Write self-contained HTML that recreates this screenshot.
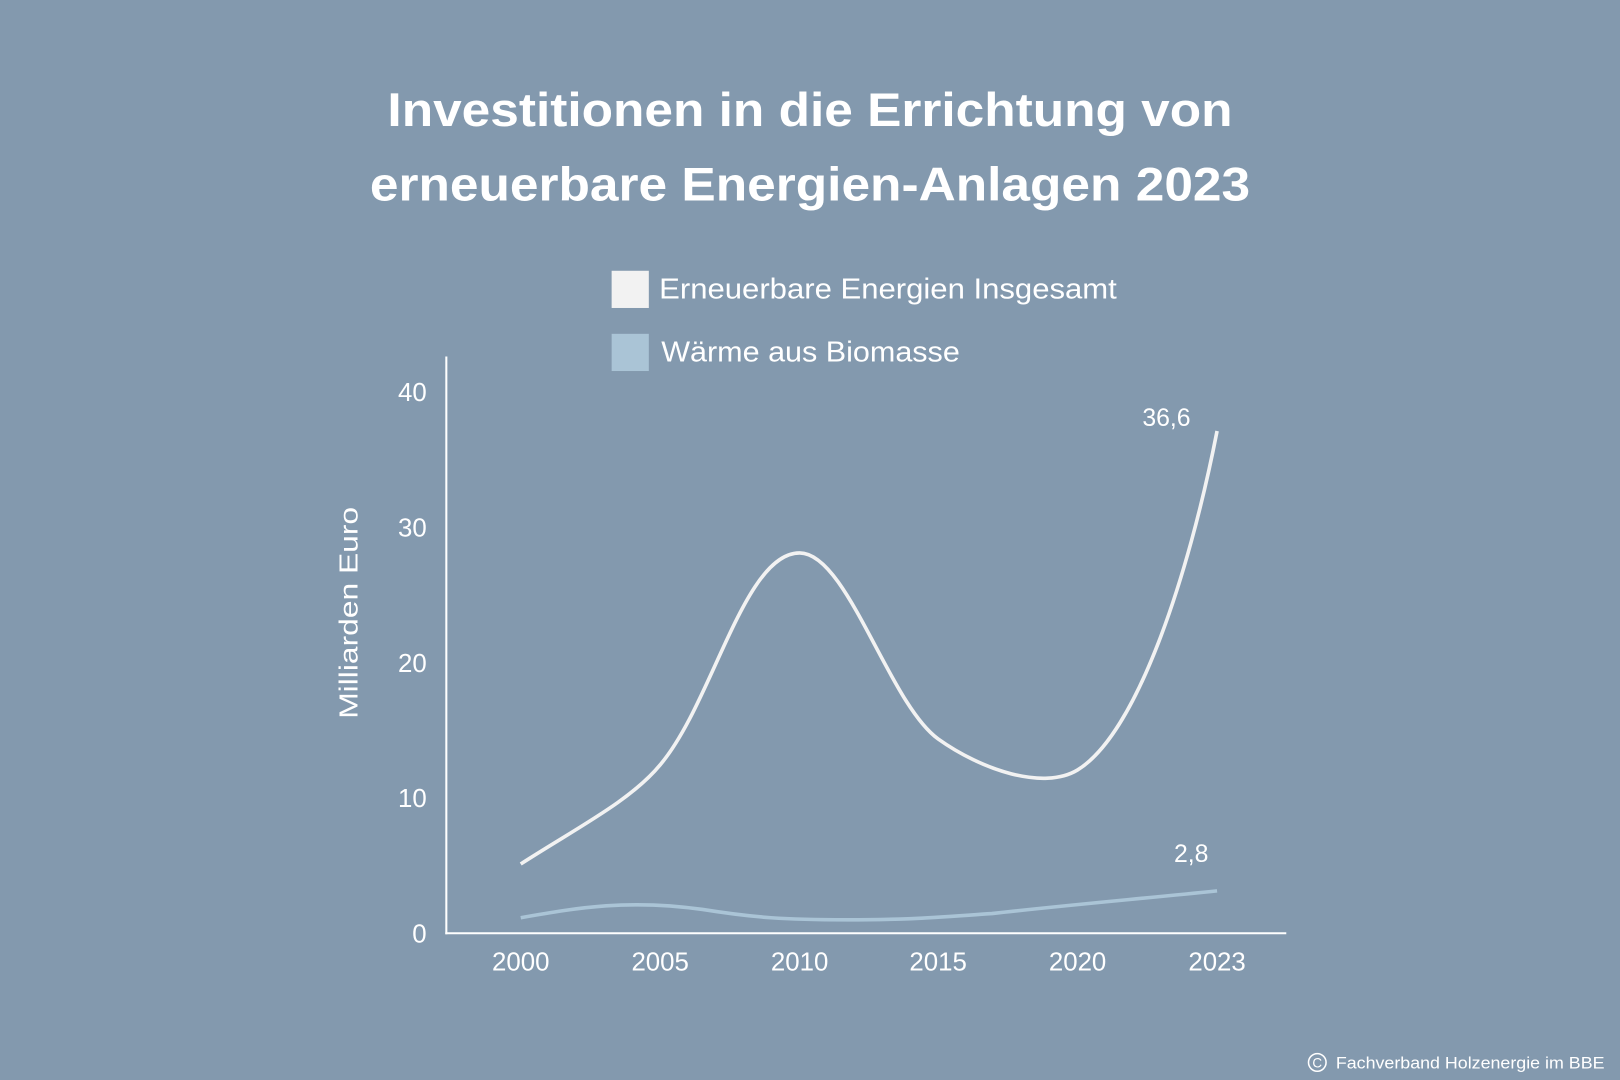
<!DOCTYPE html>
<html><head><meta charset="utf-8"><style>
html,body{margin:0;padding:0;background:#8399ae;}
svg{display:block;}
text{font-family:"Liberation Sans",sans-serif;fill:#fff;}
</style></head><body>
<svg width="1620" height="1080" viewBox="0 0 1568 1045" preserveAspectRatio="none" xmlns="http://www.w3.org/2000/svg">
<rect width="1568" height="1045" fill="#8399ae"/>
<text x="784" y="122" text-anchor="middle" font-size="46" font-weight="bold" textLength="818" lengthAdjust="spacingAndGlyphs">Investitionen in die Errichtung von</text>
<text x="784" y="194" text-anchor="middle" font-size="46" font-weight="bold" textLength="852" lengthAdjust="spacingAndGlyphs">erneuerbare Energien-Anlagen 2023</text>
<rect x="592" y="262" width="36" height="36" fill="#f2f2f2"/>
<text x="638" y="289" font-size="28" textLength="443" lengthAdjust="spacingAndGlyphs">Erneuerbare Energien Insgesamt</text>
<rect x="592" y="323" width="36" height="36" fill="#aac4d6"/>
<text x="640" y="350" font-size="28" textLength="289" lengthAdjust="spacingAndGlyphs">Wärme aus Biomasse</text>
<line x1="432" y1="345" x2="432" y2="904" stroke="#fff" stroke-width="2"/>
<line x1="431" y1="903" x2="1245" y2="903" stroke="#fff" stroke-width="2"/>
<g font-size="25" text-anchor="end">
<text x="413" y="912">0</text><text x="413" y="781">10</text><text x="413" y="650">20</text><text x="413" y="519">30</text><text x="413" y="388">40</text>
</g>
<g font-size="25" text-anchor="middle">
<text x="504" y="939">2000</text><text x="639" y="939">2005</text><text x="774" y="939">2010</text><text x="908" y="939">2015</text><text x="1043" y="939">2020</text><text x="1178" y="939">2023</text>
</g>
<text transform="translate(346,593) rotate(-90)" font-size="25" text-anchor="middle" textLength="205" lengthAdjust="spacingAndGlyphs">Milliarden Euro</text>
<path d="M504,836 C560,800 610,775 639,740 C690,680 720,535 774,535 C820,535 860,680 908,715 C950,745 1010,765 1043,745 C1100,710 1150,560 1178,417" fill="none" stroke="#f2f2f2" stroke-width="3.5"/>
<path d="M504,888 C560,878 610,870 680,880 C730,888 760,890 820,890 C880,890 900,888 960,884 C1030,876 1100,870 1178,862" fill="none" stroke="#aac4d6" stroke-width="3.5"/>
<text x="1129" y="412" font-size="24" text-anchor="middle">36,6</text>
<text x="1153" y="834" font-size="24" text-anchor="middle">2,8</text>
<circle cx="1275" cy="1028" r="8.5" fill="none" stroke="#fff" stroke-width="1.5"/>
<text x="1275" y="1033" font-size="13" text-anchor="middle">C</text>
<text x="1293" y="1034" font-size="16" textLength="260" lengthAdjust="spacingAndGlyphs">Fachverband Holzenergie im BBE</text>
</svg>
</body></html>
